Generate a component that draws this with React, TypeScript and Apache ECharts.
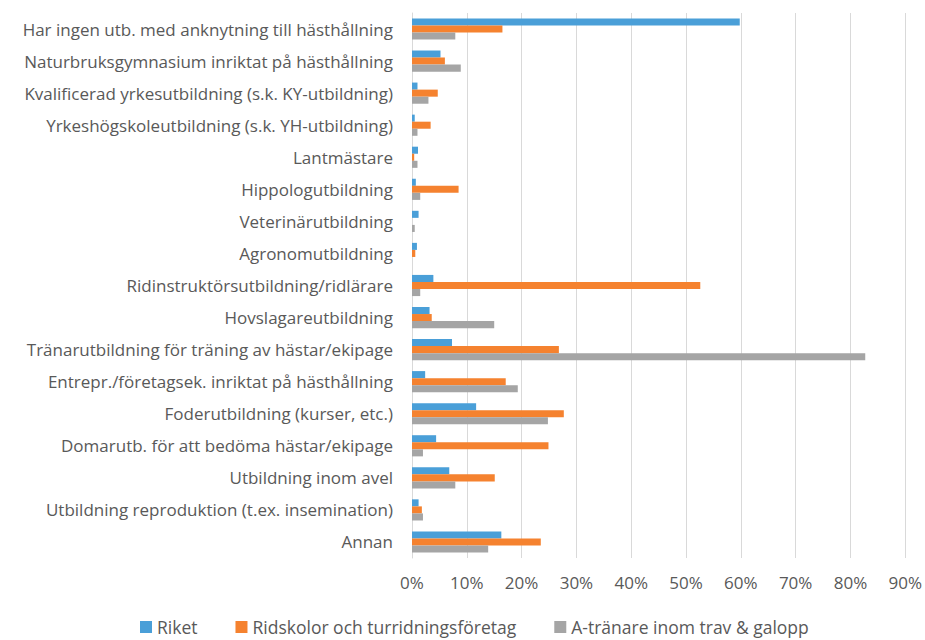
import React, { useEffect, useRef } from "react";
import * as echarts from "echarts";

const categories = [
  "Har ingen utb. med anknytning till hästhållning",
  "Naturbruksgymnasium inriktat på hästhållning",
  "Kvalificerad yrkesutbildning (s.k. KY-utbildning)",
  "Yrkeshögskoleutbildning (s.k. YH-utbildning)",
  "Lantmästare",
  "Hippologutbildning",
  "Veterinärutbildning",
  "Agronomutbildning",
  "Ridinstruktörsutbildning/ridlärare",
  "Hovslagareutbildning",
  "Tränarutbildning för träning av hästar/ekipage",
  "Entrepr./företagsek. inriktat på hästhållning",
  "Foderutbildning (kurser, etc.)",
  "Domarutb. för att bedöma hästar/ekipage",
  "Utbildning inom avel",
  "Utbildning reproduktion (t.ex. insemination)",
  "Annan",
];

const seriesNames = ["Riket", "Ridskolor och turridningsföretag", "A-tränare inom trav & galopp"];

const riket = [59.8, 5.2, 1.0, 0.5, 1.1, 0.7, 1.2, 0.9, 3.9, 3.2, 7.3, 2.4, 11.7, 4.4, 6.8, 1.2, 16.3];
const ridskolor = [16.5, 6.0, 4.7, 3.4, 0.4, 8.5, 0, 0.6, 52.6, 3.6, 26.8, 17.1, 27.7, 24.9, 15.1, 1.8, 23.5];
const atranare = [7.9, 8.9, 3.0, 1.0, 1.0, 1.5, 0.5, 0, 1.5, 15.0, 82.7, 19.3, 24.8, 2.0, 7.9, 2.0, 13.9];

const colors = ["#4a9fd8", "#f5822f", "#a5a5a5"];
const FONT = "'Open Sans', sans-serif";

export default function App() {
  const ref = useRef<HTMLDivElement>(null);
  useEffect(() => {
    if (!ref.current) return;
    const chart = echarts.init(ref.current, undefined, { renderer: "svg" });
    const data = [riket, ridskolor, atranare];
    chart.setOption({
      animation: false,
      color: colors,
      textStyle: { fontFamily: FONT },
      grid: { left: 412, right: 19, top: 13, bottom: 82, containLabel: false },
      legend: {
        top: 618,
        left: 140,
        padding: [0, 0, 0, 0],
        itemWidth: 12,
        itemHeight: 12,
        itemGap: 38,
        itemStyle: { borderWidth: 0 },
        icon: "rect",
        textStyle: { color: "#595959", fontSize: 17.5, fontFamily: FONT },
        data: seriesNames,
      },
      xAxis: {
        type: "value",
        min: 0,
        max: 90,
        interval: 10,
        axisLine: { show: false },
        axisTick: { show: false },
        splitLine: { lineStyle: { color: "#d9d9d9", width: 1 } },
        axisLabel: {
          formatter: (v: number) => v + "%",
          color: "#595959",
          fontSize: 17,
          fontFamily: FONT,
          margin: 16,
        },
      },
      yAxis: {
        type: "category",
        data: categories,
        inverse: true,
        axisLine: { show: true, lineStyle: { color: "#d9d9d9" } },
        axisTick: { show: false },
        axisLabel: { color: "#595959", fontSize: 17, fontFamily: FONT, margin: 19 },
      },
      series: seriesNames.map((name, i) => ({
        name,
        type: "bar",
        data: data[i],
        barGap: "0%",
        barCategoryGap: "34%",
      })),
    });
    return () => chart.dispose();
  }, []);
  return (
    <div
      ref={ref}
      style={{ position: "absolute", left: 0, top: 0, width: 925, height: 640 }}
    />
  );
}
